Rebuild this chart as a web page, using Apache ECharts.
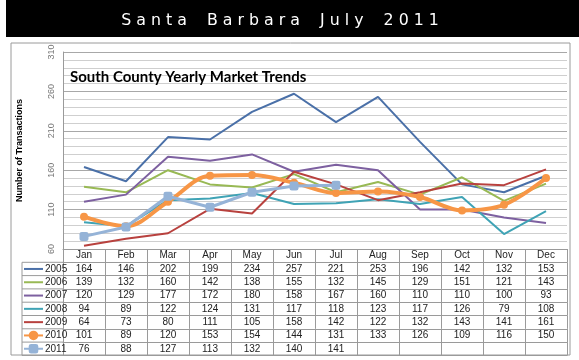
<!DOCTYPE html>
<html><head><meta charset="utf-8">
<script src="https://cdn.jsdelivr.net/npm/echarts@6/dist/echarts.min.js"></script>
<style>html,body{margin:0;padding:0;background:#fff}#c{width:579px;height:360px}</style>
</head><body><div id="c"></div>
<script>
const months = ['Jan','Feb','Mar','Apr','May','Jun','Jul','Aug','Sep','Oct','Nov','Dec'];
const years = ['2005','2006','2007','2008','2009','2010','2011'];
const v2005 = [164,146,202,199,234,257,221,253,196,142,132,153];
const v2006 = [139,132,160,142,138,155,132,145,129,151,121,143];
const v2007 = [120,129,177,172,180,158,167,160,110,110,100,93];
const v2008 = [94,89,122,124,131,117,118,123,117,126,79,108];
const v2009 = [64,73,80,111,105,158,142,122,132,143,141,161];
const v2010 = [101,89,120,153,154,144,131,133,126,109,116,150];
const v2011 = [76,88,127,113,132,140,141];
const yTicks = [60,110,160,210,260,310];

const rows = [v2005,v2006,v2007,v2008,v2009,v2010,v2011];
const colors = ['#4A70A8','#98B954','#7D60A0','#3FA3B5','#B8413E','#F79646','#95B3D7'];
const withMarkers = ['2010','2011'];

const H = 360;
const gridLeft = 63, gridRight = 12, gridTop = 52, gridBottom = 111;
const rowH = 13.3;
const axisY = H - gridBottom;
const lineCol = '#9a9a9a';
const tableFont = 'Liberation Sans';

const xAxes = [];
for (let k = 0; k <= 8; k++) {
  const ax = {
    type: 'category', data: months, boundaryGap: true, gridIndex: 0,
    position: 'bottom', offset: k * rowH,
    axisLine: {show: true, lineStyle: {color: lineCol, width: 1}},
    axisTick: {show: k < 8, interval: 0, length: rowH, lineStyle: {color: lineCol}},
    axisLabel: {show: k < 8, interval: 0, margin: rowH / 2, verticalAlign: 'middle',
      fontSize: 10, color: '#222', fontFamily: tableFont},
    splitLine: {show: false}
  };
  if (k >= 1 && k <= 7) {
    const r = rows[k - 1];
    ax.axisLabel.formatter = (val, idx) => (r[idx] === undefined ? '' : String(r[idx]));
  }
  xAxes.push(ax);
}

const series = years.map((y, i) => {
  const s = {
    name: y, type: 'line', data: rows[i], xAxisIndex: 0, yAxisIndex: 0,
    color: colors[i], symbol: 'none', showSymbol: false,
    lineStyle: {width: 2, color: colors[i]}, z: 2 + i
  };
  if (y === '2010') {
    Object.assign(s, {symbol: 'circle', showSymbol: true, symbolSize: 8, smooth: 0.35,
      lineStyle: {width: 4, color: colors[i]}, itemStyle: {color: colors[i]}});
  }
  if (y === '2011') {
    Object.assign(s, {symbol: 'roundRect', showSymbol: true, symbolSize: 9,
      lineStyle: {width: 3, color: colors[i]}, itemStyle: {color: colors[i]}});
  }
  return s;
});

const legendData = years.map(y => withMarkers.includes(y) ? {name: y} : {name: y, itemStyle: {opacity: 0}});

const graphics = [
  {type: 'rect', shape: {x: 6, y: 0, width: 573, height: 37}, style: {fill: '#000'}, z: -10},
  {type: 'rect', shape: {x: 11, y: 43, width: 559, height: 312}, style: {fill: '#fff', stroke: '#9a9a9a', lineWidth: 1}, z: -10}
];
for (let k = 1; k <= 8; k++) {
  graphics.push({type: 'line', shape: {x1: 22, y1: axisY + k * rowH, x2: gridLeft, y2: axisY + k * rowH},
    style: {stroke: lineCol, lineWidth: 1}, z: 5});
}
graphics.push({type: 'line', shape: {x1: 22, y1: axisY + rowH, x2: 22, y2: axisY + 8 * rowH},
  style: {stroke: lineCol, lineWidth: 1}, z: 5});

const chart = echarts.init(document.getElementById('c'), null, {renderer: 'canvas'});
chart.setOption({
  animation: false,
  backgroundColor: '#fff',
  title: [
    {text: 'S a n t a    B a r b a r a    J u l y    2 0 1 1', left: 280, top: 21, textAlign: 'center',
      textVerticalAlign: 'middle', padding: 0,
      textStyle: {color: '#fff', fontSize: 15.8, fontWeight: 'normal', fontFamily: 'DejaVu Sans'}},
    {text: 'South County Yearly Market Trends', left: 70, top: 70, padding: 0,
      textStyle: {color: '#000', fontSize: 15, fontWeight: 'bold', fontFamily: 'Lato'}}
  ],
  legend: {
    data: legendData, orient: 'vertical', left: 23, top: axisY + rowH + 0.65, padding: 0,
    itemWidth: 19, itemHeight: 12, itemGap: rowH - 12, selectedMode: false,
    textStyle: {fontSize: 10, color: '#222', fontFamily: tableFont, lineHeight: 12, padding: [0, 0, 0, -3]}
  },
  grid: {left: gridLeft, right: gridRight, top: gridTop, bottom: gridBottom, containLabel: false},
  xAxis: xAxes,
  yAxis: {
    type: 'value', min: yTicks[0], max: yTicks[yTicks.length - 1], interval: 50,
    name: 'Number of Transactions', nameLocation: 'middle', nameGap: 39, nameRotate: 90,
    nameTextStyle: {fontSize: 9, fontWeight: 'bold', color: '#000', fontFamily: tableFont},
    axisLine: {show: true, lineStyle: {color: lineCol}},
    axisTick: {show: false},
    axisLabel: {rotate: 90, margin: 7, fontSize: 9, color: '#777', fontFamily: tableFont},
    splitLine: {show: true, lineStyle: {color: '#a8a8a8', width: 1}},
    minorTick: {show: false, splitNumber: 5},
    minorSplitLine: {show: true, lineStyle: {color: '#cfcfcf', width: 1}}
  },
  graphic: graphics,
  series: series
});
</script></body></html>
